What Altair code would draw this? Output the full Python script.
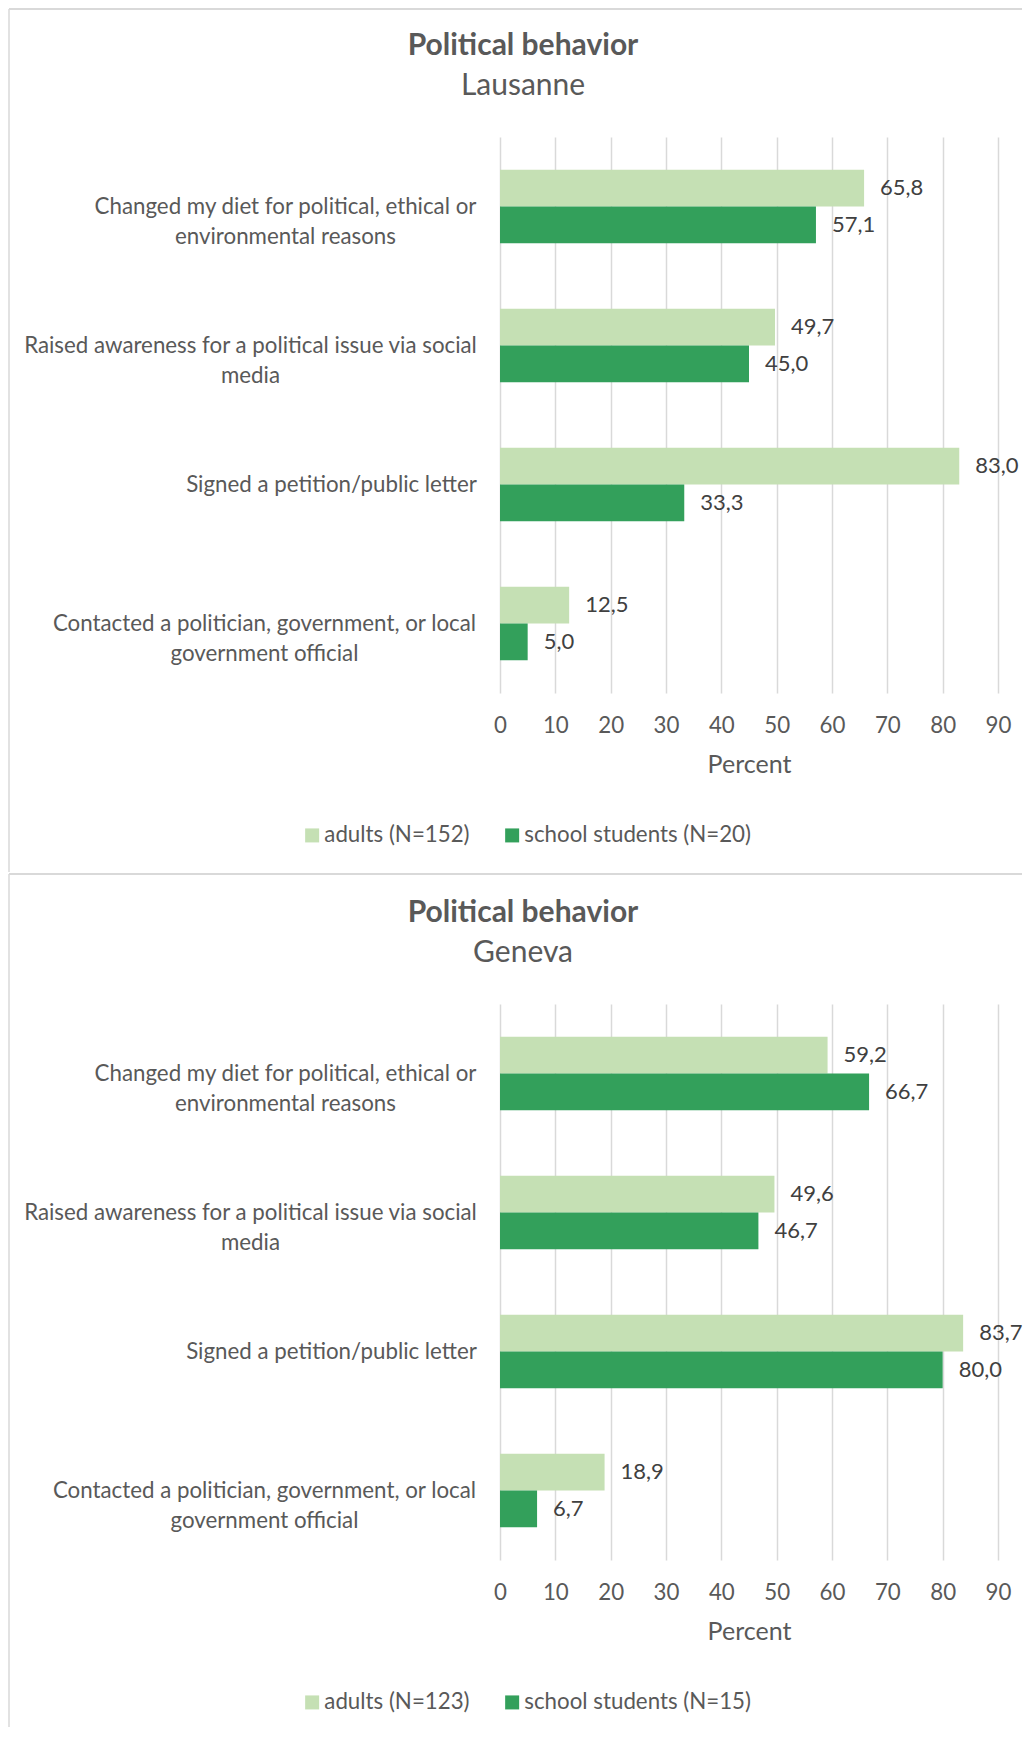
import altair as alt
import pandas as pd

# ---------------- data ----------------
categories = [
    "Changed my diet for political, ethical or|environmental reasons",
    "Raised awareness for a political issue via social|media",
    "Signed a petition/public letter",
    "Contacted a politician, government, or local|government official",
]
series_lausanne = ["adults (N=152)", "school students (N=20)"]
series_geneva = ["adults (N=123)", "school students (N=15)"]
lausanne_adults = [65.8, 49.7, 83.0, 12.5]
lausanne_students = [57.1, 45.0, 33.3, 5.0]
geneva_adults = [59.2, 49.6, 83.7, 18.9]
geneva_students = [66.7, 46.7, 80.0, 6.7]
x_ticks = [0, 10, 20, 30, 40, 50, 60, 70, 80, 90]
chart_title = "Political behavior"

# ---------------- style ----------------
FONT = "Lato"
LIGHT = "#C5E0B4"
DARK = "#33A05B"
GRID = "#D9D9D9"
TXT = "#595959"
VAL = "#404040"
W, H = 498, 556
LBL = 22.3
# distance from plot edge to centre of each (centred) category label block
label_centres = [215, 250, 169, 236]

pad_expr = " : ".join(
    f"datum.value === '{c}' ? {p}" for c, p in zip(categories, label_centres)
) + " : 200"

one = pd.DataFrame({"k": [0]})


def panel(city, series, adults, students, top, bottom):
    df = pd.DataFrame({
        "category": categories * 2,
        "series": [series[0]] * len(categories) + [series[1]] * len(categories),
        "value": adults + students,
    })
    base = alt.Chart(df)
    yscale = alt.Scale(paddingInner=0.47, paddingOuter=0.235)
    yoff = alt.YOffset("series:N", sort=series,
                       scale=alt.Scale(domain=series, paddingInner=0, paddingOuter=0))
    xenc = alt.X("value:Q",
                 scale=alt.Scale(domain=[0, 90], nice=False, zero=True),
                 axis=alt.Axis(values=x_ticks, title="Percent", grid=True,
                               gridColor=GRID, gridWidth=1.5, domain=False,
                               ticks=False, tickSize=0, labelFont=FONT,
                               labelFontSize=LBL, labelColor=TXT,
                               labelBaseline="alphabetic", labelPadding=39,
                               labelFlush=False, labelOverlap=False,
                               titleFont=FONT, titleFontSize=25,
                               titleFontWeight="normal", titleColor=TXT,
                               titleX=W / 2, titleY=79.5, titleAlign="center",
                               titleBaseline="alphabetic"))
    yenc = alt.Y("category:N", sort=categories, scale=yscale,
                 axis=alt.Axis(title=None, domain=False, ticks=False, tickSize=0,
                               grid=False,
                               labelExpr="split(datum.label, '|')",
                               labelAlign="center", labelBaseline="middle",
                               labelPadding=alt.ExprRef(expr=pad_expr),
                               labelLineHeight=30, labelFont=FONT,
                               labelFontSize=LBL, labelColor=TXT,
                               labelLimit=0))
    bars = base.mark_bar().encode(
        x=xenc,
        y=yenc,
        yOffset=yoff,
        color=alt.Color("series:N",
                        scale=alt.Scale(domain=series, range=[LIGHT, DARK]),
                        legend=alt.Legend(title=None, orient="none",
                                          legendX=-199, legendY=687,
                                          direction="horizontal",
                                          symbolType="square", symbolSize=196,
                                          symbolStrokeWidth=0, labelFont=FONT,
                                          labelFontSize=LBL, labelColor=TXT,
                                          labelOffset=1, columnPadding=31,
                                          padding=0, labelLimit=0)),
    )
    labels = base.mark_text(align="left", baseline="middle", dx=16,
                            font=FONT, fontSize=22, color=VAL).transform_calculate(
        lbl="replace(format(datum.value, '.1f'), '.', ',')"
    ).encode(
        x=xenc,
        y=yenc,
        yOffset=yoff,
        text="lbl:N",
    )
    frame_top = alt.Chart(one).mark_rule(color=GRID, strokeWidth=2).encode(
        x=alt.value(-491), x2=alt.value(522), y=alt.value(top))
    frame_left = alt.Chart(one).mark_rule(color=GRID, strokeWidth=1.5).encode(
        x=alt.value(-491), y=alt.value(top), y2=alt.value(bottom))
    t1 = alt.Chart(one).mark_text(font=FONT, fontSize=30, fontWeight="bold",
                                  color=TXT, align="center",
                                  baseline="alphabetic").encode(
        x=alt.value(23), y=alt.value(-82), text=alt.value(chart_title))
    t2 = alt.Chart(one).mark_text(font=FONT, fontSize=30, color=TXT,
                                  align="center", baseline="alphabetic").encode(
        x=alt.value(23), y=alt.value(-42), text=alt.value(city))
    return alt.layer(bars, labels, frame_top, frame_left, t1, t2).properties(
        width=W, height=H)


p1 = panel("Lausanne", series_lausanne, lausanne_adults, lausanne_students, -128, 735)
p2 = panel("Geneva", series_geneva, geneva_adults, geneva_students, -130, 723)

chart = alt.vconcat(p1, p2, spacing=0).resolve_scale(
    color="independent", x="independent", y="independent", yOffset="independent"
).resolve_legend(color="independent").properties(
    padding=0, background="white"
).configure(font=FONT).configure_view(stroke=None)

chart.save("out.html", embed_options={"renderer": "svg", "actions": False})
